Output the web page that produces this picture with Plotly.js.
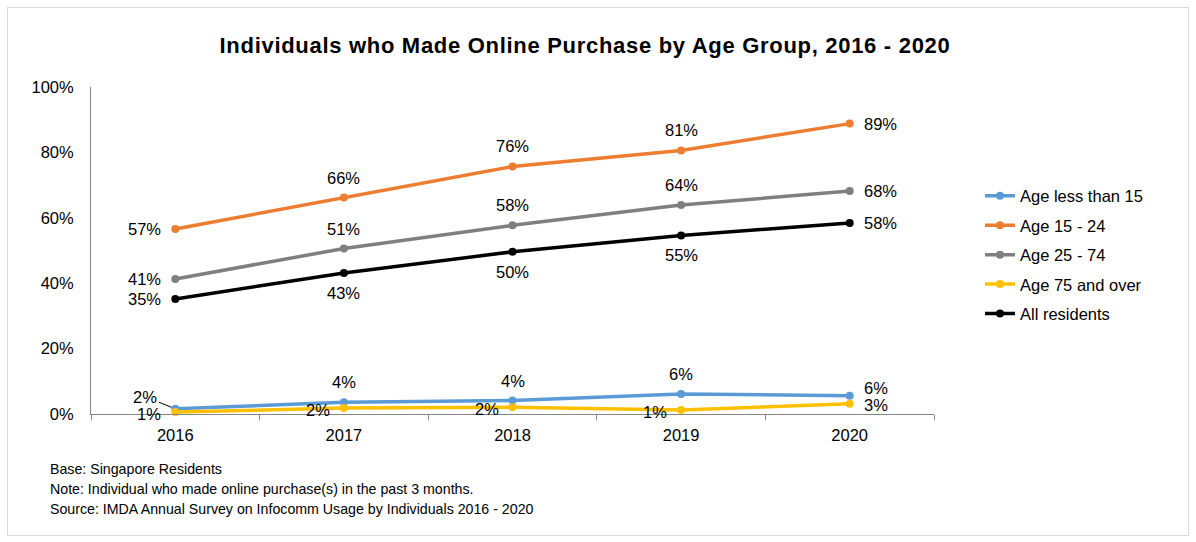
<!DOCTYPE html>
<html>
<head>
<meta charset="utf-8">
<script src="https://cdn.plot.ly/plotly-3.0.1.min.js"></script>
<style>
  html, body { margin: 0; padding: 0; background: #fff; }
  #wrap { position: relative; width: 1196px; height: 542px; }
  #chart { position: absolute; left: 0; top: 0; width: 1196px; height: 542px; }
  #frame { position: absolute; left: 7px; top: 7px; width: 1180px; height: 527px; border: 1px solid #d9d9d9; pointer-events: none; }
  #chart .gtitle { letter-spacing: 0.7px; }
</style>
</head>
<body>
<div id="wrap"><div id="chart"></div><div id="frame"></div></div>
<script>
const years = ['2016', '2017', '2018', '2019', '2020'];
const seriesNames = ['Age less than 15', 'Age 15 - 24', 'Age 25 - 74', 'Age 75 and over', 'All residents'];
const ageUnder15 = [1.6, 3.6, 4.1, 6.1, 5.6];
const age15to24 = [56.6, 66.2, 75.7, 80.6, 88.8];
const age25to74 = [41.3, 50.6, 57.7, 63.9, 68.2];
const age75over = [0.6, 1.8, 2.1, 1.2, 3.1];
const allResidents = [35.2, 43.1, 49.6, 54.6, 58.4];
const title = 'Individuals who Made Online Purchase by Age Group, 2016 - 2020';
const notes = [
  'Base: Singapore Residents',
  'Note: Individual who made online purchase(s) in the past 3 months.',
  'Source: IMDA Annual Survey on Infocomm Usage by Individuals 2016 - 2020'
];

const colors = ['#5B9BD5', '#ED7D31', '#7F7F7F', '#FFC000', '#000000'];
const values = [ageUnder15, age15to24, age25to74, age75over, allResidents];
// label placement relative to each point: L=left, R=right, T=above, B=below, C=callout
const placement = [
  ['C', 'T', 'T', 'T', 'R'],
  ['L', 'T', 'T', 'T', 'R'],
  ['L', 'T', 'T', 'T', 'R'],
  ['L', 'L', 'L', 'L', 'R'],
  ['L', 'B', 'B', 'B', 'R']
];
const FONT = 'Liberation Sans, Arial, sans-serif';
const LBL = 16.5;

const traces = values.map((v, i) => ({
  type: 'scatter',
  mode: 'lines+markers',
  name: seriesNames[i],
  legendgroup: 'g' + i,
  x: years,
  y: v,
  line: { color: colors[i], width: 3.5 },
  marker: { color: colors[i], size: 8 },
  cliponaxis: false
}));

const annotations = [];
values.forEach((v, i) => {
  v.forEach((val, j) => {
    const p = placement[i][j];
    const a = {
      x: j, y: val, xref: 'x', yref: 'y',
      text: Math.round(val) + '%',
      showarrow: false,
      font: { family: FONT, size: LBL, color: '#000' },
      xanchor: 'center', yanchor: 'middle'
    };
    if (p === 'T') { a.yshift = 20; }
    else if (p === 'B') { a.yshift = -20; }
    else if (p === 'L') { a.xanchor = 'right'; a.xshift = -12; if (i === 3) a.yshift = -2; }
    else if (p === 'R') { a.xanchor = 'left'; a.xshift = 12; if (i === 0) a.yshift = 8; if (i === 3) a.yshift = -1; }
    else if (p === 'C') {
      a.showarrow = true; a.arrowhead = 0; a.arrowwidth = 1; a.arrowcolor = '#000';
      a.ax = -30; a.ay = -12; a.standoff = 4;
    }
    annotations.push(a);
  });
});
notes.forEach((t, k) => annotations.push({
  xref: 'paper', yref: 'paper',
  x: -43 / 843, y: (414 - 469 - k * 20) / 327,
  xanchor: 'left', yanchor: 'middle',
  text: t, showarrow: false,
  font: { family: FONT, size: 14.2, color: '#000' }
}));

const layout = {
  width: 1196, height: 542,
  margin: { l: 91, r: 262, t: 87, b: 128, pad: 0 },
  paper_bgcolor: '#fff', plot_bgcolor: '#fff',
  font: { family: FONT, size: LBL, color: '#000' },
  title: {
    text: '<b>' + title + '</b>',
    font: { family: FONT, size: 22, color: '#000' },
    xref: 'paper', x: (585 - 91) / 843, xanchor: 'center',
    yref: 'container', y: 1 - 45 / 542, yanchor: 'middle'
  },
  xaxis: {
    type: 'category', range: [-0.5, 4.5],
    showgrid: false, zeroline: false,
    showline: true, linecolor: '#868686', linewidth: 1,
    ticks: 'outside', tickson: 'boundaries', ticklen: 5, tickcolor: '#868686',
    ticklabelstandoff: 6,
    tickfont: { family: FONT, size: LBL, color: '#000' }
  },
  yaxis: {
    range: [0, 100], dtick: 20, ticksuffix: '%',
    showgrid: false, zeroline: false,
    showline: true, linecolor: '#868686', linewidth: 1,
    ticks: '', ticklabelstandoff: 13,
    tickfont: { family: FONT, size: LBL, color: '#000' }
  },
  legend: {
    x: (980 - 91) / 843, xanchor: 'left',
    y: (414 - 255) / 327, yanchor: 'middle',
    font: { family: FONT, size: LBL, color: '#000' },
    traceorder: 'grouped', tracegroupgap: 5
  },
  showlegend: true,
  annotations: annotations
};

Plotly.newPlot('chart', traces, layout, { displayModeBar: false, staticPlot: true });
</script>
</body>
</html>
